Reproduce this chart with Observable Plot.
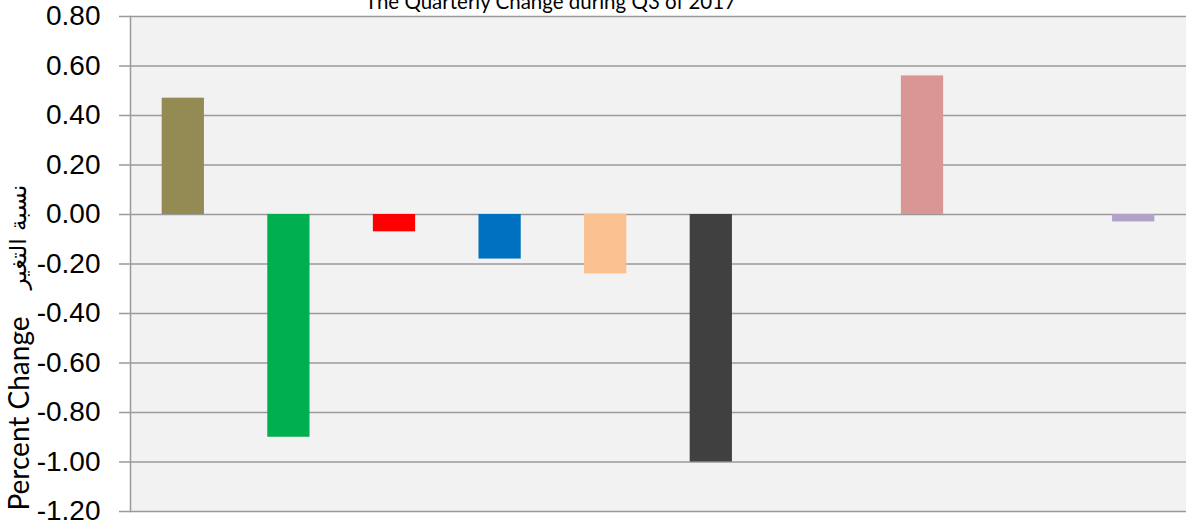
<!DOCTYPE html>
<html><head><meta charset="utf-8">
<script src="https://cdn.jsdelivr.net/npm/d3@7"></script>
<script src="https://cdn.jsdelivr.net/npm/@observablehq/plot@0.6"></script>
<style>html,body{margin:0;padding:0;background:#fff;overflow:hidden}svg{overflow:visible;display:block}</style>
</head><body><div id="chart"></div>
<script>
const categories = ["C1","C2","C3","C4","C5","C6","C7","C8","C9","C10"];
const values = [0.47, -0.90, -0.07, -0.18, -0.24, -1.00, null, 0.56, null, -0.03];
const colors = ["#948A54","#00B050","#FF0000","#0070C0","#FAC090","#404040","none","#D99694","none","#B3A2C7"];
const yTicks = [-1.2, -1.0, -0.8, -0.6, -0.4, -0.2, 0, 0.2, 0.4, 0.6, 0.8];
const title = "The Quarterly Change during Q3 of 2017";
const yLabelEn = "Percent Change";
const yLabelAr = "نسبة التغير";

const data = categories.map((c, i) => ({category: c, value: values[i], color: colors[i]}))
  .filter(d => d.value != null);

const gridColor = "#9a9a9a";
const chart = Plot.plot({
  width: 1186, height: 526,
  marginTop: 16, marginBottom: 15, marginLeft: 130, marginRight: 0,
  style: {background: "#fff", fontFamily: "'Liberation Sans', Arial, sans-serif", overflow: "visible"},
  x: {domain: categories, paddingInner: 0.6, paddingOuter: 0.3, round: false, axis: null},
  y: {domain: [-1.2, 0.8]},
  color: {type: "identity"},
  marks: [
    Plot.frame({fill: "#f2f2f2", stroke: null}),
    Plot.gridY(yTicks, {stroke: gridColor, strokeOpacity: 1, strokeWidth: 1.5}),
    Plot.frame({anchor: "left", stroke: gridColor, strokeWidth: 1.5}),
    Plot.barY(data, {x: "category", y: "value", fill: "color"}),
    Plot.axisY(yTicks, {tickSize: 11, tickPadding: 19, tickFormat: d => d.toFixed(2), fontSize: 28,
      stroke: gridColor, strokeWidth: 1.5, fill: "#000", label: null}),
    Plot.text([title], {frameAnchor: "top", dx: -108, dy: -8, lineAnchor: "bottom", fontSize: 20.5,
      fontFamily: "Lato, 'Open Sans', sans-serif", fill: "#000"}),
    Plot.text([yLabelEn], {frameAnchor: "bottom-left", rotate: -90, textAnchor: "start", lineAnchor: "middle",
      dx: -110, dy: -1, fontSize: 28, fontFamily: "Lato, 'Open Sans', sans-serif", fill: "#000"}),
    Plot.text([yLabelAr], {frameAnchor: "bottom-left", rotate: -90, textAnchor: "start", lineAnchor: "middle",
      dx: -112, dy: -222, fontSize: 23, fontFamily: "'DejaVu Sans', sans-serif", fill: "#000"})
  ]
});
document.getElementById("chart").appendChild(chart);
</script>
</body></html>
